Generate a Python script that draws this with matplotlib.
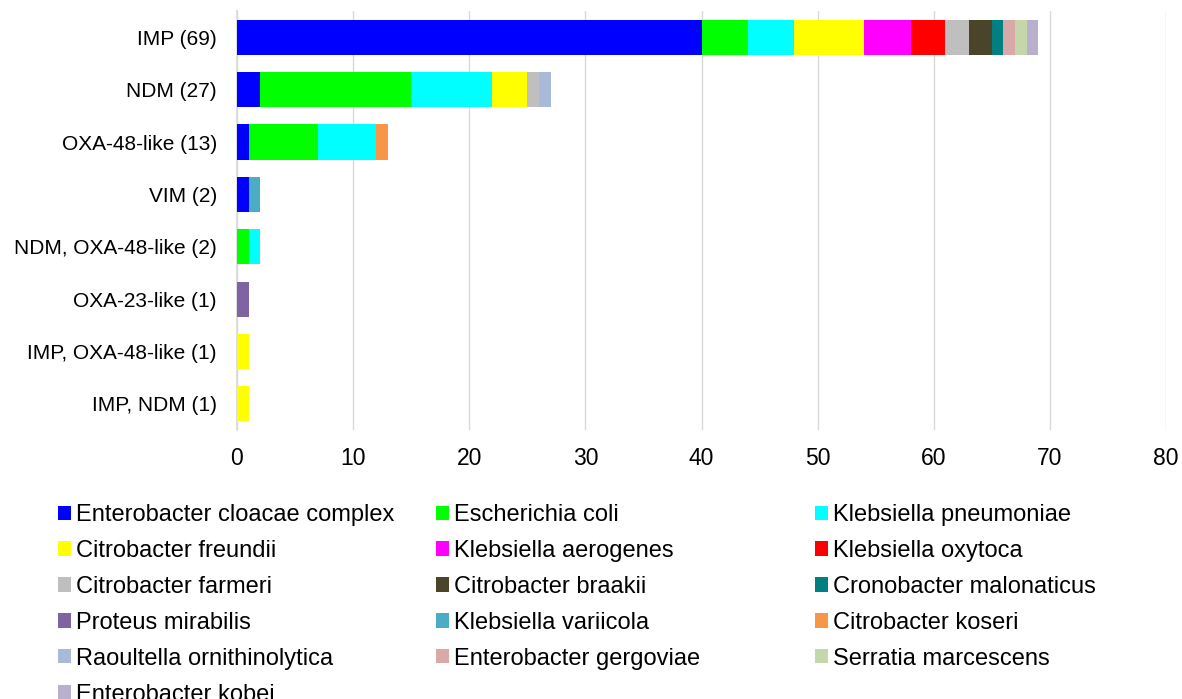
import matplotlib.pyplot as plt
from matplotlib.patches import Patch
import numpy as np

plt.rcParams['font.family'] = ['Liberation Sans', 'DejaVu Sans']

# carbapenemase groups (top to bottom) and isolate counts per species
groups = ['IMP (69)', 'NDM (27)', 'OXA-48-like (13)', 'VIM (2)',
          'NDM, OXA-48-like (2)', 'OXA-23-like (1)', 'IMP, OXA-48-like (1)',
          'IMP, NDM (1)']

species = ['Enterobacter cloacae complex', 'Escherichia coli', 'Klebsiella pneumoniae',
           'Citrobacter freundii', 'Klebsiella aerogenes', 'Klebsiella oxytoca',
           'Citrobacter farmeri', 'Citrobacter braakii', 'Cronobacter malonaticus',
           'Proteus mirabilis', 'Klebsiella variicola', 'Citrobacter koseri',
           'Raoultella ornithinolytica', 'Enterobacter gergoviae', 'Serratia marcescens',
           'Enterobacter kobei']

colors = ['#0000FF', '#00FF00', '#00FFFF', '#FFFF00', '#FF00FF', '#FF0000',
          '#BFBFBF', '#4A442A', '#008080', '#8064A2', '#4BACC6', '#F79646',
          '#A9B9D8', '#D9A9A8', '#C4D6AA', '#B8B0CC']

# rows follow species order, columns follow groups order
counts = np.array([
    [40, 2, 1, 1, 0, 0, 0, 0],   # E. cloacae complex
    [4, 13, 6, 0, 1, 0, 0, 0],   # E. coli
    [4, 7, 5, 0, 1, 0, 0, 0],    # K. pneumoniae
    [6, 3, 0, 0, 0, 0, 1, 1],    # C. freundii
    [4, 0, 0, 0, 0, 0, 0, 0],    # K. aerogenes
    [3, 0, 0, 0, 0, 0, 0, 0],    # K. oxytoca
    [2, 1, 0, 0, 0, 0, 0, 0],    # C. farmeri
    [2, 0, 0, 0, 0, 0, 0, 0],    # C. braakii
    [1, 0, 0, 0, 0, 0, 0, 0],    # Cronobacter malonaticus
    [0, 0, 0, 0, 0, 1, 0, 0],    # P. mirabilis
    [0, 0, 0, 1, 0, 0, 0, 0],    # K. variicola
    [0, 0, 1, 0, 0, 0, 0, 0],    # C. koseri
    [0, 1, 0, 0, 0, 0, 0, 0],    # R. ornithinolytica
    [1, 0, 0, 0, 0, 0, 0, 0],    # E. gergoviae
    [1, 0, 0, 0, 0, 0, 0, 0],    # S. marcescens
    [1, 0, 0, 0, 0, 0, 0, 0],    # E. kobei
])

fig = plt.figure(figsize=(11.82, 6.99), dpi=100)
ax = fig.add_axes([0.2005, 0.385, 0.786, 0.599])

y = np.arange(len(groups))
left = np.zeros(len(groups))
for name, col, row in zip(species, colors, counts):
    ax.barh(y, row, left=left, height=0.67, color=col, zorder=3)
    left += row

ax.set_xlim(0, 80)
ax.set_ylim(len(groups) - 0.5, -0.5)
ax.set_xticks(np.arange(0, 81, 10))
ax.set_yticks(y)
ax.set_yticklabels(groups)
ax.tick_params(axis='both', length=0)
ax.tick_params(axis='x', labelsize=16.5, pad=12)
ax.tick_params(axis='y', labelsize=15, pad=14.5)
ax.grid(axis='x', color='#D9D9D9', linewidth=1, zorder=0)
for s in ['top', 'right', 'bottom']:
    ax.spines[s].set_visible(False)
ax.spines['left'].set_color('#D9D9D9')
ax.spines['left'].set_linewidth(1.2)

# legend laid out in three equal columns, filled row by row
handles = [Patch(facecolor=c, edgecolor='none') for c in colors]
col_x = [0.049, 0.369, 0.6895]
for k in range(3):
    idx = list(range(k, len(species), 3))
    fig.legend([handles[i] for i in idx], [species[i] for i in idx],
               loc='upper left', bbox_to_anchor=(col_x[k], 0.279),
               frameon=False, fontsize=17, handlelength=0.55, handleheight=0.55,
               handletextpad=0.22, labelspacing=0.59, borderaxespad=0,
               borderpad=0)

fig.savefig('out.png', dpi=100)
